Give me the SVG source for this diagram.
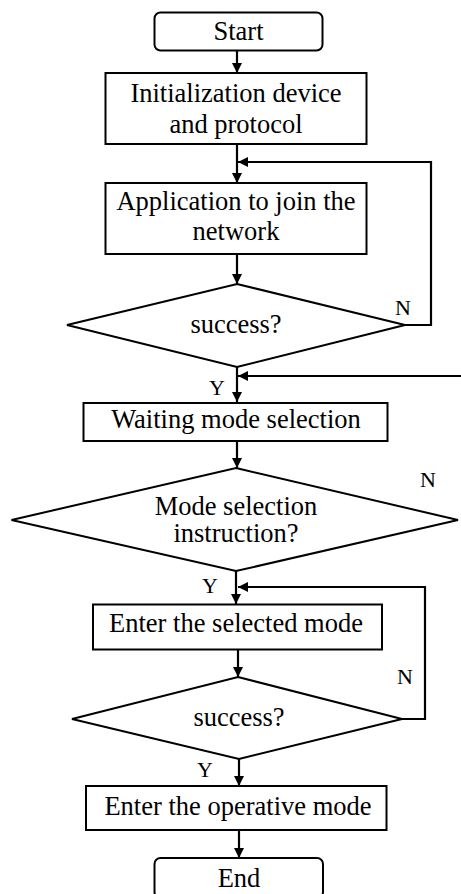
<svg xmlns="http://www.w3.org/2000/svg" width="461" height="894" viewBox="0 0 461 894">
  <defs>
    <marker id="arrow" viewBox="0 0 10 10" refX="10" refY="5" markerWidth="10" markerHeight="10" markerUnits="userSpaceOnUse" orient="auto">
      <path d="M0,0 L10,5 L0,10 z" fill="#000"/>
    </marker>
    <style>
      .shape { fill: #fff; stroke: #000; stroke-width: 2; }
      .wire { fill: none; stroke: #000; stroke-width: 2.2; }
      .arr { marker-end: url(#arrow); }
    </style>
  </defs>
  <rect width="461" height="894" fill="#fff"/>

  <g id="connectors">
    <path class="wire arr" d="M237,51 V73"/>
    <path class="wire arr" d="M237,144 V183"/>
    <path class="wire arr" d="M405,325 H431 V162 H238"/>
    <path class="wire arr" d="M237,254 V284"/>
    <path class="wire arr" d="M237,367 V402"/>
    <path class="wire arr" d="M461,376 H238"/>
    <path class="wire arr" d="M237,441 V468"/>
    <path class="wire arr" d="M236,571 V604"/>
    <path class="wire arr" d="M402,719 H425 V587 H238"/>
    <path class="wire arr" d="M238,649 V677"/>
    <path class="wire arr" d="M239,759 V786"/>
    <path class="wire arr" d="M239,830 V858"/>
  </g>

  <g font-family="Liberation Serif, Times New Roman, serif" font-size="26.5" text-anchor="middle" fill="#000">
    <g id="start">
      <rect class="shape" x="154.5" y="12.5" width="168" height="38" rx="6"/>
      <text x="238.5" y="40">Start</text>
    </g>

    <g id="init">
      <rect class="shape" x="105.5" y="73" width="261" height="71"/>
      <text x="236" y="102">Initialization device</text>
      <text x="236" y="132.5">and protocol</text>
    </g>

    <g id="join">
      <rect class="shape" x="105.5" y="183" width="261" height="71"/>
      <text x="236" y="210">Application to join the</text>
      <text x="236" y="240">network</text>
    </g>

    <g id="check1">
      <polygon class="shape" points="237,284 405,325 237,367 67,325"/>
      <text x="236" y="333">success?</text>
      <text x="403" y="315" font-size="22">N</text>
      <text x="217" y="395" font-size="22">Y</text>
    </g>

    <g id="waiting">
      <rect class="shape" x="83.5" y="403" width="304" height="38"/>
      <text x="236" y="428">Waiting mode selection</text>
    </g>

    <g id="check2">
      <polygon class="shape" points="236,468 458,520 236,571 11.5,520"/>
      <text x="236" y="515">Mode selection</text>
      <text x="236" y="542">instruction?</text>
      <text x="428" y="487" font-size="22">N</text>
      <text x="210" y="593" font-size="22">Y</text>
    </g>

    <g id="selected">
      <rect class="shape" x="93" y="604.5" width="289" height="45"/>
      <text x="236" y="632">Enter the selected mode</text>
    </g>

    <g id="check3">
      <polygon class="shape" points="238,677 402,719 239,759 72,719"/>
      <text x="239" y="726">success?</text>
      <text x="405" y="684" font-size="22">N</text>
      <text x="205" y="777" font-size="22">Y</text>
    </g>

    <g id="operative">
      <rect class="shape" x="86" y="786" width="300.5" height="44"/>
      <text x="238" y="815">Enter the operative mode</text>
    </g>

    <g id="end">
      <rect class="shape" x="154.5" y="858" width="168.5" height="40" rx="6"/>
      <text x="239" y="887">End</text>
    </g>
  </g>
</svg>
